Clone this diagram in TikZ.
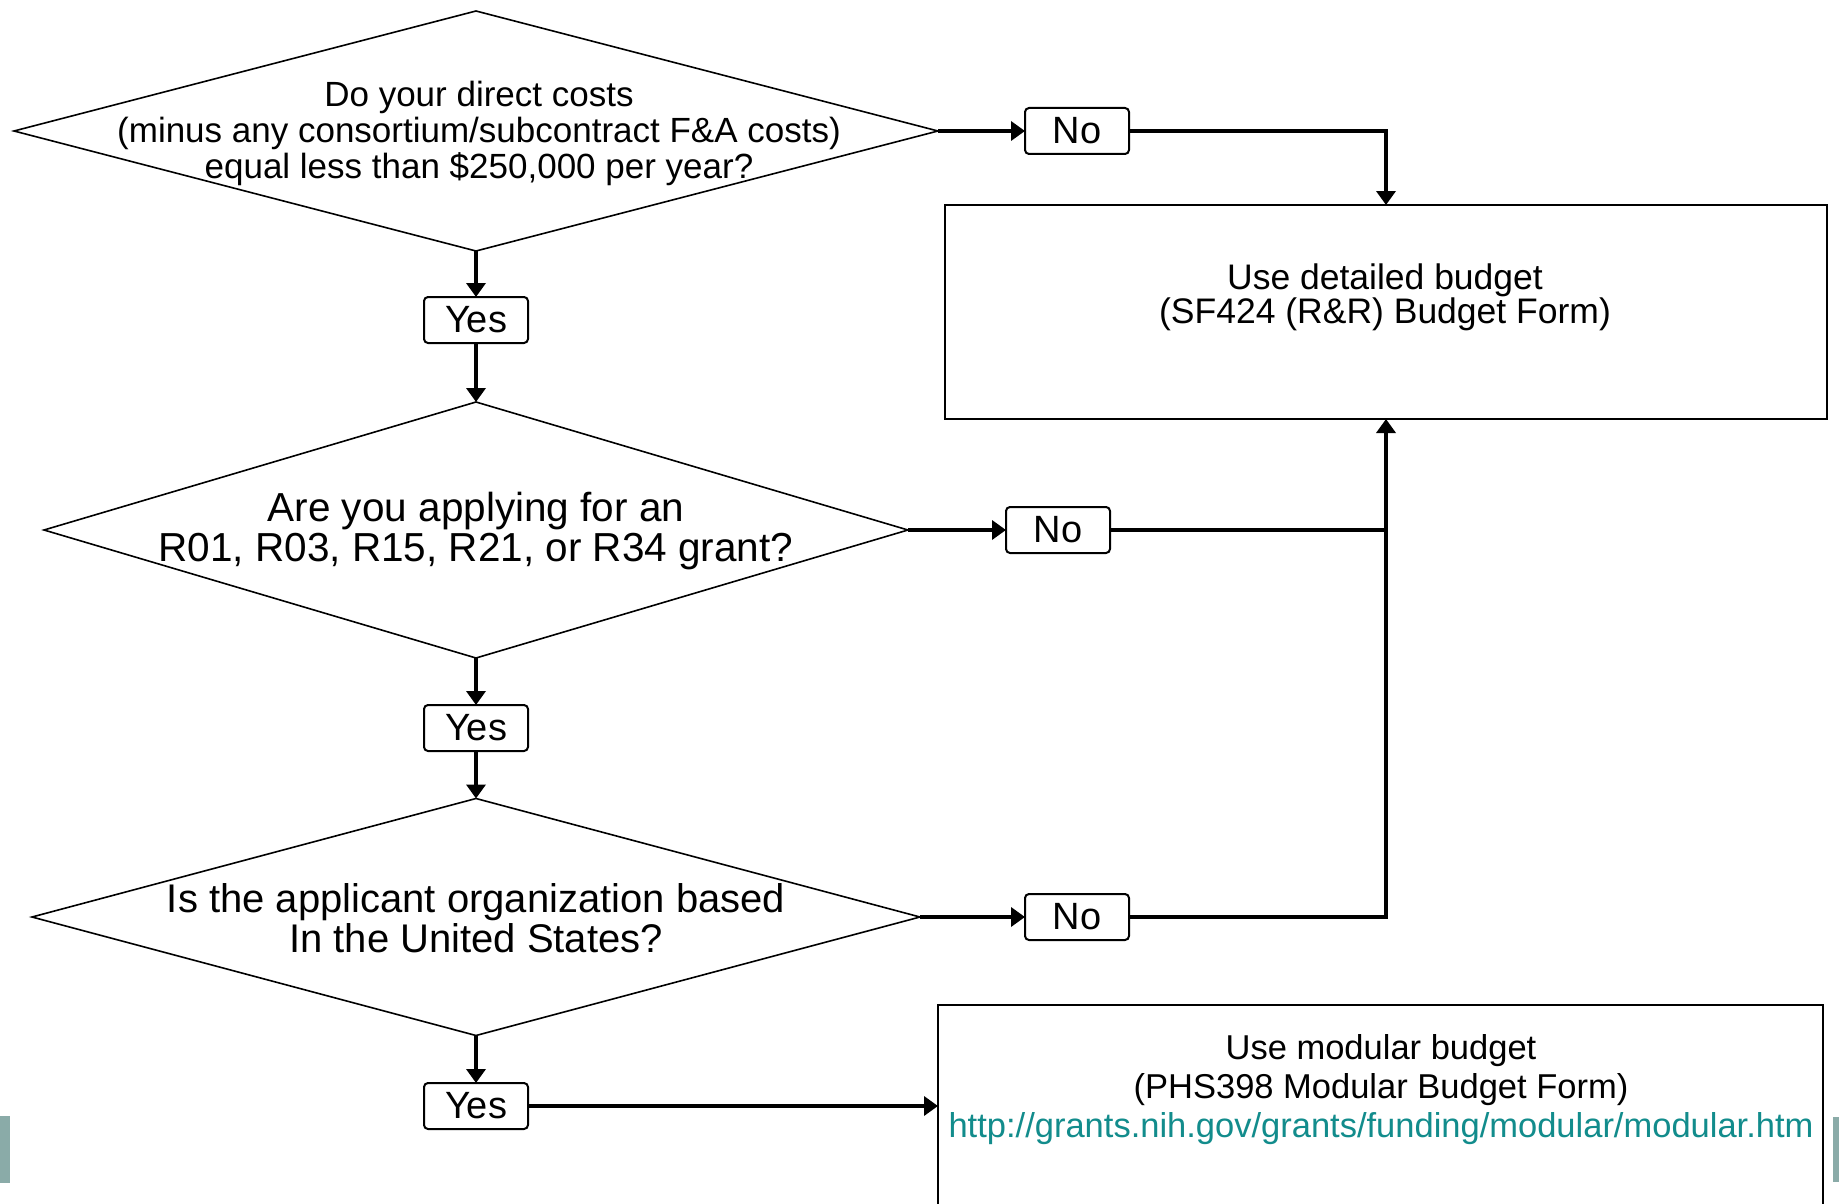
\documentclass[tikz,border=0pt]{standalone}
\usepackage{fontspec}
\setmainfont{Liberation Sans}
\usetikzlibrary{shapes.geometric,arrows.meta}
\definecolor{linkteal}{RGB}{18,140,140}
\definecolor{barteal}{RGB}{138,171,168}
\tikzset{
  decision/.style={diamond, draw=black, line width=1.6pt, inner sep=0pt, outer sep=0pt},
  qtext/.style={align=center, inner sep=0pt},
  answer/.style={draw=black, line width=2pt, rounded corners=4pt, minimum width=104pt, minimum height=46pt, inner sep=0pt, outer sep=0pt, font=\fontsize{38}{40}\selectfont},
  result/.style={draw=black, line width=2.4pt, inner sep=0pt, outer sep=0pt},
  flow/.style={line width=4.6pt, -{Triangle[length=14pt,width=19pt]}},
  plain/.style={line width=4.6pt}
}
\begin{document}
\begin{tikzpicture}[x=1pt,y=-1pt]
\clip (0,0) rectangle (1839,1204);
\fill[white] (0,0) rectangle (1839,1204);
% side bars
\fill[barteal] (0,1116) rectangle (10,1183);
\fill[barteal] (1833,1117) rectangle (1839,1182);
% decisions
\node[decision, minimum width=924pt, minimum height=240pt] (d1) at (476,131) {};
\node[qtext, font=\fontsize{35}{36}\selectfont] (d1t) at (479,133) {Do your direct costs\\(minus any consortium/subcontract F\&A costs)\\equal less than \$250,000 per year?};
\node[decision, minimum width=864pt, minimum height=256pt] (d2) at (476,530) {};
\node[qtext, font=\fontsize{40.5}{40}\selectfont] (d2t) at (476,531) {Are you applying for an\\R01, R03, R15, R21, or R34 grant?};
\node[decision, minimum width=888pt, minimum height=237pt] (d3) at (476,917) {};
\node[qtext, font=\fontsize{40}{40}\selectfont] (d3t) at (476,918) {Is the applicant organization based\\In the United States?};
% answers
\node[answer] (y1) at (476,320) {Yes};
\node[answer] (y2) at (476,728) {Yes};
\node[answer] (y3) at (476,1106) {Yes};
\node[answer] (n1) at (1077,131) {No};
\node[answer] (n2) at (1058,530) {No};
\node[answer] (n3) at (1077,917) {No};
% results
\node[result, minimum width=882pt, minimum height=214pt] (b1) at (1386,312) {};
\node[qtext, font=\fontsize{35.5}{34}\selectfont] (b1t) at (1385,297) {Use detailed budget\\(SF424 (R\&R) Budget Form)};
\node[result, minimum width=885pt, minimum height=240pt] (b2) at (1380.5,1125) {};
\node[qtext, font=\fontsize{34.5}{39}\selectfont] (b2t) at (1381,1090) {Use modular budget\\(PHS398 Modular Budget Form)\\\textcolor{linkteal}{http://grants.nih.gov/grants/funding/modular/modular.htm}};
% connectors
\draw[flow] (d1.south) -- (y1.north);
\draw[flow] (y1.south) -- (d2.north);
\draw[flow] (d2.south) -- (y2.north);
\draw[flow] (y2.south) -- (d3.north);
\draw[flow] (d3.south) -- (y3.north);
\draw[flow] (y3.east) -- (y3.east -| b2.west);
\draw[flow] (d1.east) -- (n1.west);
\draw[flow] (d2.east) -- (n2.west);
\draw[flow] (d3.east) -- (n3.west);
\draw[flow] (n1.east) -| (b1.north);
\draw[plain] (n2.east) -- (n2.east -| b1.south);
\draw[flow] (n3.east) -| (b1.south);
\end{tikzpicture}
\end{document}
